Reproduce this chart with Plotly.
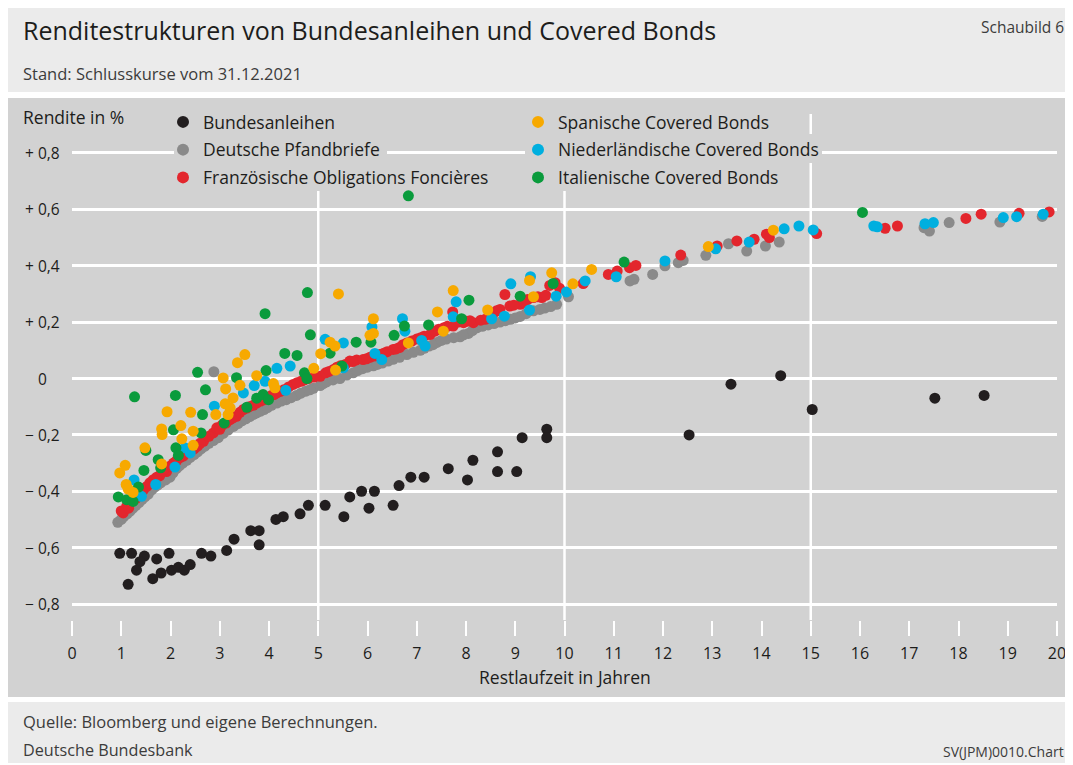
import plotly.graph_objects as go

# ---------------- data ----------------
bund_x = [0.97, 1.21, 1.47, 1.38, 1.31, 1.14, 1.72, 1.97, 1.64, 1.81, 2.02, 2.16, 2.28, 2.40, 2.63, 2.82,
          3.14, 3.29, 3.63, 3.80, 3.80, 4.14, 4.29, 4.63, 4.80, 5.14, 5.52, 5.64, 5.88, 6.14, 6.03, 6.52,
          6.64, 6.88, 7.15, 7.64, 8.03, 8.14, 8.64, 8.64, 9.03, 9.14, 9.64, 9.64, 12.53, 13.38, 14.39,
          15.03, 17.52, 18.52]
bund_y = [-0.62, -0.62, -0.63, -0.65, -0.68, -0.73, -0.64, -0.62, -0.71, -0.69, -0.68, -0.67, -0.68, -0.66,
          -0.62, -0.63, -0.61, -0.57, -0.54, -0.54, -0.59, -0.50, -0.49, -0.48, -0.45, -0.45, -0.49, -0.42,
          -0.40, -0.40, -0.46, -0.45, -0.38, -0.35, -0.35, -0.32, -0.36, -0.29, -0.26, -0.33, -0.33, -0.21,
          -0.18, -0.21, -0.20, -0.02, 0.01, -0.11, -0.07, -0.06]

pfand_x = [0.93, 1.05, 1.18, 1.30, 1.42, 1.55, 1.68, 1.80, 1.99, 2.12, 2.25, 2.40, 2.55, 2.70, 2.87, 3.07,
           3.28, 3.45, 3.61, 3.75, 3.90, 4.05, 4.16, 4.35, 4.56, 4.75, 4.90, 5.04, 5.17, 5.30, 5.44, 5.71,
           5.90, 6.12, 6.30, 6.52, 6.80, 7.07, 7.25, 7.41, 7.60, 7.88, 8.05, 8.22, 8.45, 8.69, 8.90, 9.10,
           9.37, 9.60, 9.84, 10.08, 11.33, 11.41, 11.79, 12.04, 12.31, 12.41, 12.87, 13.33, 13.70, 14.08,
           14.36, 17.30, 17.41, 17.81, 18.84, 19.70, 2.88,
           1.00, 1.12, 1.24, 1.36, 1.48, 1.62, 1.74, 1.90, 2.05, 2.18, 2.33, 2.48, 2.62, 2.78, 2.97, 3.17,
           3.37, 3.53, 3.68, 3.83, 3.97, 4.25, 4.45, 4.65, 4.83, 5.10, 5.58, 5.80, 6.00, 6.20, 6.42, 6.65,
           6.93, 7.15, 7.33, 7.50, 7.75, 7.95, 8.13, 8.33, 8.57, 8.80, 9.00, 9.22, 9.50, 9.72]
pfand_y = [-0.51, -0.49, -0.47, -0.45, -0.43, -0.41, -0.385, -0.37, -0.35, -0.32, -0.30, -0.28, -0.26,
           -0.24, -0.22, -0.195, -0.17, -0.15, -0.135, -0.122, -0.11, -0.095, -0.087, -0.075, -0.06, -0.045,
           -0.035, -0.025, -0.012, -0.005, 0.0, 0.02, 0.035, 0.045, 0.055, 0.068, 0.085, 0.10, 0.115, 0.128,
           0.14, 0.148, 0.16, 0.18, 0.19, 0.20, 0.21, 0.22, 0.24, 0.25, 0.263, 0.29, 0.346, 0.352, 0.369,
           0.40, 0.411, 0.419, 0.437, 0.478, 0.452, 0.47, 0.484, 0.535, 0.523, 0.553, 0.555, 0.575, 0.024,
           -0.50, -0.48, -0.46, -0.44, -0.42, -0.395, -0.378, -0.36, -0.335, -0.31, -0.29, -0.27, -0.25,
           -0.23, -0.21, -0.183, -0.16, -0.143, -0.128, -0.116, -0.103, -0.08, -0.068, -0.052, -0.04, -0.018,
           0.012, 0.028, 0.04, 0.05, 0.062, 0.075, 0.093, 0.107, 0.12, 0.135, 0.145, 0.155, 0.17, 0.185,
           0.195, 0.205, 0.215, 0.23, 0.245, 0.255]

fr_x = [1.04, 1.11, 1.18, 1.24, 1.35, 1.45, 1.52, 1.65, 1.78, 1.92, 2.06, 2.20, 2.30, 2.40, 2.55, 2.67,
        2.87, 2.94, 3.05, 3.21, 3.34, 3.48, 3.60, 3.75, 3.90, 4.05, 4.16, 4.30, 4.49, 4.65, 4.80, 5.04,
        5.15, 5.31, 5.45, 5.64, 5.78, 5.91, 6.05, 6.25, 6.40, 6.52, 6.65, 6.80, 7.00, 7.15, 7.27, 7.37,
        7.55, 7.73, 7.74, 7.85, 8.01, 8.15, 8.39, 8.55, 8.69, 8.79, 8.89, 9.10, 9.25, 9.37, 9.54, 9.81,
        9.90, 10.38, 10.89, 11.07, 11.32, 11.45, 12.36, 13.10, 13.50, 13.85, 14.10, 14.16, 15.12, 16.51,
        16.76, 18.15, 18.46, 19.23, 19.84,
        1.00, 1.15, 1.30, 1.42, 1.58, 1.72, 1.85, 2.00, 2.13, 2.26, 2.48, 2.60, 2.78, 3.00, 3.13, 3.27,
        3.41, 3.55, 3.68, 3.83, 3.97, 4.10, 4.23, 4.40, 4.57, 4.72, 4.92, 5.22, 5.38, 5.55, 5.70, 5.98,
        6.15, 6.33, 6.58, 6.72, 6.90, 7.08, 7.45, 7.62, 7.95, 8.08, 8.30, 8.47, 8.62, 8.97, 9.18, 9.46,
        9.62, 9.70]
fr_y = [-0.477, -0.454, -0.44, -0.43, -0.41, -0.395, -0.383, -0.359, -0.345, -0.33, -0.30, -0.28, -0.265,
        -0.258, -0.24, -0.223, -0.193, -0.175, -0.165, -0.146, -0.134, -0.11, -0.10, -0.087, -0.075, -0.06,
        -0.051, -0.04, -0.021, -0.01, 0.0, 0.008, 0.02, 0.032, 0.045, 0.062, 0.066, 0.067, 0.075, 0.085,
        0.095, 0.103, 0.11, 0.126, 0.14, 0.15, 0.156, 0.168, 0.18, 0.236, 0.186, 0.20, 0.203, 0.198, 0.21,
        0.23, 0.245, 0.298, 0.257, 0.263, 0.28, 0.287, 0.287, 0.34, 0.32, 0.337, 0.369, 0.381, 0.393, 0.401,
        0.438, 0.47, 0.488, 0.494, 0.512, 0.50, 0.514, 0.533, 0.541, 0.568, 0.583, 0.586, 0.591,
        -0.47, -0.46, -0.425, -0.40, -0.37, -0.35, -0.325, -0.31, -0.29, -0.275, -0.25, -0.23, -0.205,
        -0.18, -0.158, -0.14, -0.12, -0.105, -0.095, -0.08, -0.07, -0.057, -0.046, -0.03, -0.015, -0.005,
        0.005, 0.025, 0.04, 0.05, 0.06, 0.07, 0.08, 0.09, 0.105, 0.12, 0.133, 0.145, 0.175, 0.185, 0.198,
        0.205, 0.207, 0.22, 0.24, 0.26, 0.27, 0.29, 0.295, 0.33]

es_x = [0.97, 1.08, 1.10, 1.14, 1.24, 1.48, 1.82, 1.82, 1.83, 1.93, 2.21, 2.23, 2.41, 2.46, 2.46, 2.92,
        3.07, 3.12, 3.11, 3.17, 3.21, 3.27, 3.36, 3.41, 3.51, 3.75, 4.09, 4.12, 4.91, 5.05, 5.24, 5.34,
        5.35, 5.41, 6.05, 6.12, 6.12, 6.83, 7.42, 7.54, 7.74, 8.44, 9.29, 9.37, 9.74, 10.17, 10.55, 12.92,
        14.24]
es_y = [-0.335, -0.308, -0.376, -0.392, -0.404, -0.246, -0.303, -0.179, -0.199, -0.118, -0.167, -0.214,
        -0.12, -0.187, -0.237, -0.128, 0.002, -0.037, -0.09, -0.128, -0.104, -0.069, 0.056, -0.024, 0.085,
        0.01, -0.018, -0.033, 0.036, 0.088, 0.129, 0.115, 0.03, 0.30, 0.153, 0.16, 0.212, 0.126, 0.236,
        0.168, 0.312, 0.243, 0.348, 0.29, 0.375, 0.336, 0.387, 0.468, 0.526]

nl_x = [1.26, 1.41, 1.70, 2.09, 2.29, 2.40, 2.89, 3.48, 3.70, 3.92, 4.16, 4.34, 4.43, 5.14, 5.51, 5.51,
        6.09, 6.15, 6.29, 6.71, 6.76, 7.10, 7.17, 7.74, 7.80, 8.52, 8.78, 8.91, 9.29, 9.31, 9.83, 10.04,
        10.42, 11.05, 12.04, 13.07, 13.75, 14.46, 14.76, 15.05, 16.28, 16.35, 17.32, 17.49, 18.91, 19.18,
        19.72]
nl_y = [-0.36, -0.418, -0.376, -0.314, -0.246, -0.264, -0.098, -0.051, -0.025, -0.01, 0.036, -0.042, 0.044,
        0.139, 0.126, 0.038, 0.183, 0.089, 0.067, 0.212, 0.168, 0.135, 0.115, 0.219, 0.272, 0.212, 0.221,
        0.336, 0.243, 0.361, 0.292, 0.307, 0.346, 0.361, 0.417, 0.46, 0.484, 0.531, 0.541, 0.527, 0.541,
        0.538, 0.549, 0.553, 0.571, 0.574, 0.583]

it_x = [0.94, 1.11, 1.24, 1.27, 1.35, 1.46, 1.50, 1.75, 1.80, 2.06, 2.10, 2.11, 2.16, 2.55, 2.62, 2.65,
        2.71, 3.09, 3.34, 3.55, 3.75, 3.88, 3.92, 3.94, 3.99, 4.32, 4.57, 4.72, 4.77, 4.78, 4.84, 5.24,
        5.48, 5.77, 6.07, 6.54, 6.75, 6.83, 7.24, 7.91, 8.06, 9.10, 9.77, 11.21, 16.05]
it_y = [-0.42, -0.43, -0.436, -0.065, -0.385, -0.326, -0.255, -0.288, -0.317, -0.182, -0.06, -0.246, -0.273,
        0.022, -0.193, -0.128, -0.04, -0.158, 0.003, -0.102, -0.07, -0.057, 0.23, 0.028, -0.075, 0.089,
        0.082, 0.02, 0.0, 0.305, 0.155, 0.09, 0.044, 0.129, 0.129, 0.153, 0.186, 0.648, 0.19, 0.212, 0.278,
        0.292, 0.337, 0.413, 0.589]

x_ticks = list(range(0, 21))
y_ticks = [0.8, 0.6, 0.4, 0.2, 0.0, -0.2, -0.4, -0.6, -0.8]
y_labels = ["+ 0,8", "+ 0,6", "+ 0,4", "+ 0,2", "0", "\u2212 0,2", "\u2212 0,4", "\u2212 0,6", "\u2212 0,8"]
v_grid = [5, 10, 15]

# ---------------- layout geometry (page pixels; the page body adds an 8px offset) ----------------
OFF = 8
W, H = 1057, 757                              # figure size (page body is 8px in from each side)
FIG_R, FIG_B = OFF + W, OFF + H               # right / bottom edge of the figure in page pixels
PL, PR, PT, PB = 72, 1057, 114, 620          # plot area in page pixels
L, R, T, B = PL - OFF, FIG_R - PR, PT - OFF, FIG_B - PB
Y_RANGE = [-0.8567, 0.9383]
X_RANGE = [0, 20]
FONT = "Open Sans"
TXT = "#1d1d1b"
TXT2 = "#3c3c3b"
BAND_LIGHT = "#ebebeb"
BAND_DARK = "#d2d2d2"


def pxx(px):  # page pixel -> paper x
    return (px - PL) / (PR - PL)


def pxy(py):  # page pixel -> paper y
    return (PB - py) / (PB - PT)


def dx(px):  # page pixel -> data x
    return X_RANGE[0] + pxx(px) * (X_RANGE[1] - X_RANGE[0])


def dy(py):  # page pixel -> data y
    return Y_RANGE[0] + pxy(py) * (Y_RANGE[1] - Y_RANGE[0])


series = [
    ("Bundesanleihen", bund_x, bund_y, "#221e1f", "legend", 1),
    ("Deutsche Pfandbriefe", pfand_x, pfand_y, "#8a8a8a", "legend", 2),
    ("Französische Obligations Foncières", fr_x, fr_y, "#e3262d", "legend", 3),
    ("Niederländische Covered Bonds", nl_x, nl_y, "#00afdf", "legend2", 2),
    ("Italienische Covered Bonds", it_x, it_y, "#0a9b3c", "legend2", 3),
    ("Spanische Covered Bonds", es_x, es_y, "#f7a900", "legend2", 1),
]

fig = go.Figure()
for name, xs, ys, col, lg, rank in series:
    fig.add_trace(go.Scatter(
        x=xs, y=ys, mode="markers", name=name,
        marker=dict(color=col, size=11, line=dict(width=0)),
        legend=lg, legendrank=rank, legendgroup=name, cliponaxis=False,
        hoverinfo="x+y+name",
    ))

shapes = []
# background bands
for (x0, y0, x1, y1, c) in [(7, 5, 1066, 92, BAND_LIGHT), (7, 98, 1066, 697, BAND_DARK),
                            (7, 702, 1066, 763, BAND_LIGHT)]:
    shapes.append(dict(type="rect", xref="paper", yref="paper", x0=pxx(x0), x1=pxx(x1),
                       y0=pxy(y1), y1=pxy(y0), fillcolor=c, line=dict(width=0), layer="below"))
# vertical grid lines
for v in v_grid:
    shapes.append(dict(type="line", xref="x", yref="paper", x0=v, x1=v, y0=0, y1=1,
                       line=dict(color="white", width=2.5), layer="between"))
# legend entry backgrounds that interrupt the grid
for (x0, y0, x1, y1) in [(174, 106, 340, 134), (174, 134, 387, 163), (174, 163, 497, 191),
                         (525, 106, 775, 134), (525, 134, 822, 163), (525, 163, 785, 191)]:
    shapes.append(dict(type="rect", xref="x", yref="y", x0=dx(x0), x1=dx(x1), y0=dy(y1), y1=dy(y0),
                       fillcolor=BAND_DARK, line=dict(width=0), layer="between"))

annotations = []


def ann(text, x, y, size, color=TXT, xanchor="left"):
    annotations.append(dict(text=text, xref="paper", yref="paper", x=pxx(x), y=pxy(y),
                            xanchor=xanchor, yanchor="middle", showarrow=False,
                            font=dict(family=FONT, size=size, color=color)))


ann("Renditestrukturen von Bundesanleihen und Covered Bonds", 21, 30, 25)
ann("Schaubild 6", 1066, 27, 15.5, TXT2, "right")
ann("Stand: Schlusskurse vom 31.12.2021", 21, 73, 16.5, TXT2)
ann("Rendite in %", 21, 117, 17.5)
ann("Quelle: Bloomberg und eigene Berechnungen.", 21, 721, 16.5, TXT2)
ann("Deutsche Bundesbank", 21, 750, 16.2, TXT2)
ann("SV(JPM)0010.Chart", 1066, 751, 14, TXT2, "right")
ann("Restlaufzeit in Jahren", 565, 677, 17.5, TXT, "center")
for v, lab in zip(y_ticks, y_labels):
    annotations.append(dict(text=lab, xref="paper", yref="y", x=pxx(42), y=v, xanchor="center",
                            yanchor="middle", showarrow=False,
                            font=dict(family=FONT, size=15.5, color=TXT)))

legend_common = dict(bgcolor="rgba(0,0,0,0)", borderwidth=0, orientation="v",
                     font=dict(family=FONT, size=17.5, color=TXT), tracegroupgap=2,
                     itemsizing="constant",
                     xanchor="left", yanchor="top", itemclick=False, itemdoubleclick=False)

fig.update_layout(
    width=W, height=H, autosize=False,
    margin=dict(l=L, r=R, t=T, b=B, pad=0),
    paper_bgcolor="white", plot_bgcolor=BAND_DARK,
    font=dict(family=FONT, color=TXT, size=15),
    shapes=shapes, annotations=annotations,
    legend=dict(x=pxx(163), y=pxy(104), **legend_common),
    legend2=dict(x=pxx(518), y=pxy(104), **legend_common),
    xaxis=dict(range=X_RANGE, tickvals=x_ticks, ticktext=[str(t) for t in x_ticks],
               showgrid=False, zeroline=False, showline=False, ticks="outside", ticklen=15,
               tickwidth=2, tickcolor="white", ticklabelstandoff=4, ticklabeloverflow="allow",
               automargin=False,
               tickfont=dict(family=FONT, size=16, color=TXT)),
    yaxis=dict(range=Y_RANGE, tickvals=y_ticks, showticklabels=False, showgrid=True,
               gridcolor="white", gridwidth=2.5, zeroline=False, showline=False, ticks=""),
    showlegend=True,
)

fig.write_html("out.html")
